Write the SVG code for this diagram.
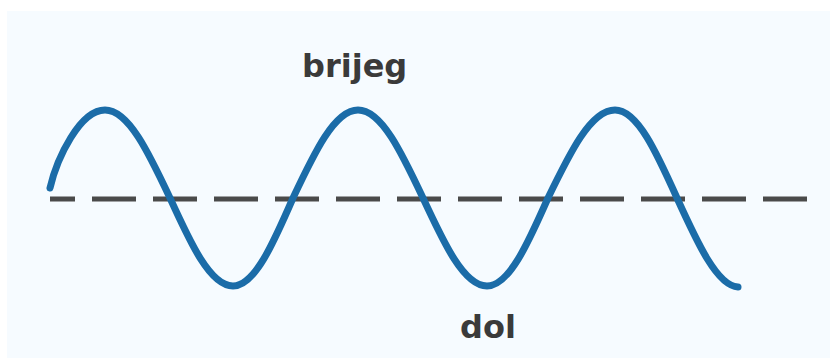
<svg xmlns="http://www.w3.org/2000/svg" width="830" height="358" viewBox="0 0 830 358">
  <style>
    .lbl { font-family: "DejaVu Sans", "Liberation Sans", sans-serif; font-weight: bold; font-size: 32px; fill: #3a3a3a; }
    .wave { fill: none; stroke: #1b6ca8; stroke-width: 7; stroke-linecap: round; stroke-linejoin: round; }
    .axis { stroke: #4a4a4a; stroke-width: 5; stroke-dasharray: 44 17; stroke-dashoffset: 19; }
  </style>
  <rect x="0" y="0" width="830" height="358" fill="#ffffff"/>
  <rect x="7" y="11" width="823" height="347" fill="#f6fbff"/>
  <g id="connectors">
    <line class="axis" x1="50" y1="199" x2="810" y2="199"/>
    <path class="wave" d="M50,188 C57,158 80,110 105,110 C128.5,110 148.8,152.9 170,198 C190.5,243.1 210.2,286 233,286 C254.7,286 273.4,243.1 293,198 C314.2,152.9 334.5,110 358,110 C381.5,110 401.8,152.9 423,198 C443.9,243.1 463.8,286 487,286 C509.1,286 528.1,243.1 548,198 C569.8,152.9 590.7,110 615,110 C637.4,110 656.8,152.9 677,198 C697.5,243.1 717.2,286 738,287"/>
  </g>
  <g id="brijeg">
    <text class="lbl" x="302" y="77">brijeg</text>
  </g>
  <g id="dol">
    <text class="lbl" x="460" y="338">dol</text>
  </g>
</svg>
